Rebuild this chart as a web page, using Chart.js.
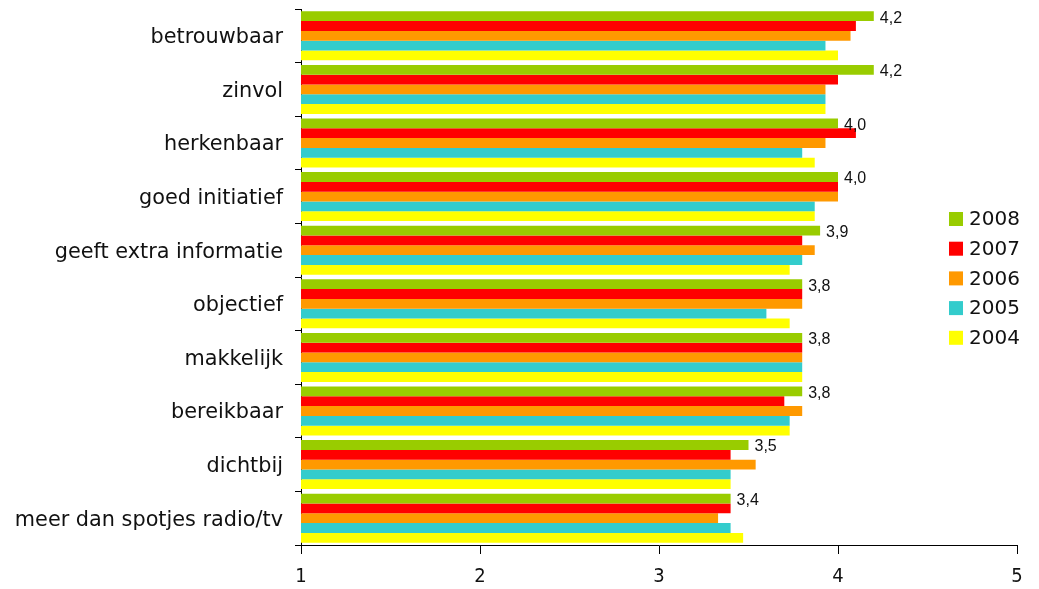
<!DOCTYPE html>
<html>
<head>
<meta charset="utf-8">
<script src="https://cdn.jsdelivr.net/npm/chart.js@4"></script>
<style>
  html, body { margin: 0; padding: 0; background: #fff; }
  #wrap { width: 1039px; height: 589px; position: relative; }
</style>
</head>
<body>
<div id="wrap"><canvas id="chart"></canvas></div>
<script>
const categories = ['betrouwbaar', 'zinvol', 'herkenbaar', 'goed initiatief', 'geeft extra informatie',
  'objectief', 'makkelijk', 'bereikbaar', 'dichtbij', 'meer dan spotjes radio/tv'];
const years = ['2008', '2007', '2006', '2005', '2004'];
const v2008 = [4.2, 4.2, 4.0, 4.0, 3.9, 3.8, 3.8, 3.8, 3.5, 3.4];
const v2007 = [4.1, 4.0, 4.1, 4.0, 3.8, 3.8, 3.8, 3.7, 3.4, 3.4];
const v2006 = [4.07, 3.93, 3.93, 4.0, 3.87, 3.8, 3.8, 3.8, 3.54, 3.33];
const v2005 = [3.93, 3.93, 3.8, 3.87, 3.8, 3.6, 3.8, 3.73, 3.4, 3.4];
const v2004 = [4.0, 3.93, 3.87, 3.87, 3.73, 3.73, 3.8, 3.73, 3.4, 3.47];
const xTicks = [1, 2, 3, 4, 5];

const COLORS = ['#99cc00', '#ff0000', '#ff9900', '#33cccc', '#ffff00'];
const series = [v2008, v2007, v2006, v2005, v2004];

Chart.defaults.font.family = '"DejaVu Sans", Verdana, sans-serif';
Chart.defaults.color = '#000';

const datasets = series.map((data, i) => ({
  label: years[i], data,
  backgroundColor: COLORS[i], borderWidth: 0,
  categoryPercentage: 0.915, barPercentage: 1.0,
}));

// value labels right of the 2008 bars
const valueLabels = {
  id: 'valueLabels',
  afterDatasetsDraw(chart) {
    const ctx = chart.ctx;
    const meta = chart.getDatasetMeta(0);
    ctx.save();
    ctx.font = '16px "Liberation Sans", Arial, sans-serif';
    ctx.fillStyle = '#111';
    ctx.textAlign = 'left';
    ctx.textBaseline = 'middle';
    meta.data.forEach((bar, i) => {
      ctx.fillText(v2008[i].toFixed(1).replace('.', ','), bar.x + 6, bar.y + 2);
    });
    ctx.restore();
  },
};

// legend drawn inside the right part of the plot
const sideLegend = {
  id: 'sideLegend',
  afterDraw(chart) {
    const ctx = chart.ctx;
    ctx.save();
    ctx.font = '20px "DejaVu Sans", Verdana, sans-serif';
    ctx.textBaseline = 'middle';
    ctx.textAlign = 'left';
    chart.data.datasets.forEach((ds, i) => {
      const y = 219 + i * 29.7;
      ctx.fillStyle = ds.backgroundColor;
      ctx.fillRect(949, y - 7, 14, 14);
      ctx.fillStyle = '#111';
      ctx.fillText(ds.label, 969, y + 1);
    });
    ctx.restore();
  },
};

new Chart(document.getElementById('chart'), {
  type: 'bar',
  data: { labels: categories, datasets },
  plugins: [valueLabels, sideLegend],
  options: {
    indexAxis: 'y',
    responsive: true, maintainAspectRatio: false, animation: false,
    layout: { padding: { top: 9, right: 22, left: 0, bottom: 0 } },
    plugins: { legend: { display: false }, tooltip: { enabled: false } },
    scales: {
      x: {
        min: 1, max: 5,
        afterBuildTicks: (s) => { s.ticks = xTicks.map((v) => ({ value: v })); },
        afterFit: (s) => { s.height = 44; },
        grid: { drawOnChartArea: false, tickLength: 9, color: '#000' },
        border: { color: '#000', width: 1 },
        ticks: { padding: 11, color: '#111', font: { size: 20, family: '"Liberation Sans Narrow", "DejaVu Sans Condensed", Arial, sans-serif' } },
      },
      y: {
        afterFit: (s) => { s.width = 301; s.paddingTop = 0; s.paddingBottom = 0; },
        grid: { drawOnChartArea: false, tickLength: 6, color: '#000', offset: true },
        border: { color: '#000', width: 1 },
        ticks: { padding: 12, labelOffset: 2, color: '#111', font: { size: 20.8 } },
      },
    },
  },
});
</script>
</body>
</html>
